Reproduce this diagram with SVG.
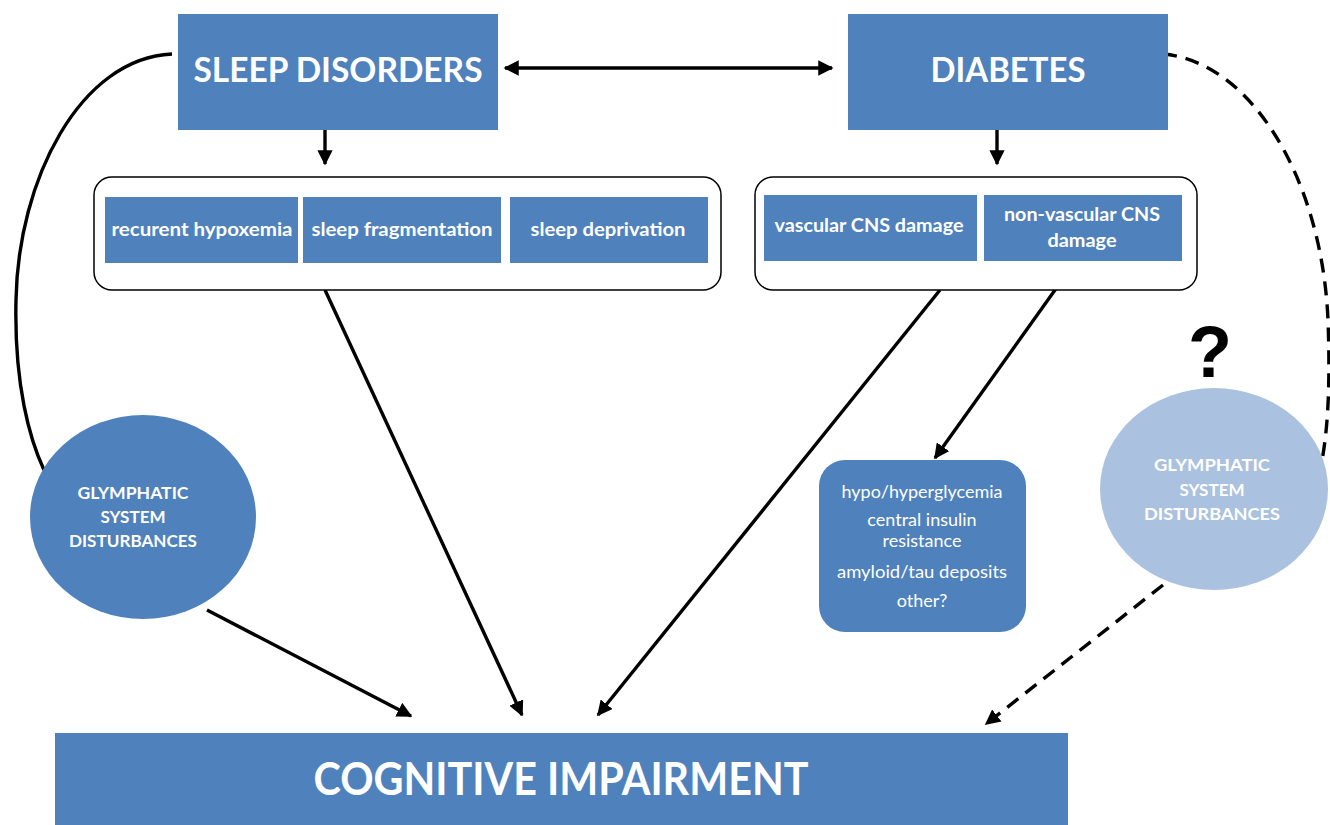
<svg xmlns="http://www.w3.org/2000/svg" width="1330" height="825" viewBox="0 0 1330 825">
<defs>
<style>
.box{fill:#4F81BD}
.light{fill:#AAC2DF}
.cont{fill:#fff;stroke:#000;stroke-width:1.5}
.t{font-family:Lato,"Open Sans","Liberation Sans",sans-serif;fill:#fff;text-anchor:middle}
.big{font-size:35px;font-weight:bold}
.mid{font-size:19px;font-weight:bold}
.reg{font-size:18px}
.circ{font-size:17px;font-weight:bold}
.ln{fill:none;stroke:#000;stroke-width:3.4}
.dash{stroke-dasharray:14 9}
</style>
<marker id="ah" viewBox="0 0 10 10" refX="9" refY="5" markerWidth="4.5" markerHeight="4.5" orient="auto-start-reverse" markerUnits="strokeWidth">
<path d="M0,0 L10,5 L0,10 z" fill="#000"/>
</marker>
</defs>
<rect width="1330" height="825" fill="#fff"/>

<g id="connectors">
<line class="ln" x1="505" y1="68" x2="832" y2="68" marker-start="url(#ah)" marker-end="url(#ah)"/>
<line class="ln" x1="325" y1="130" x2="325" y2="164" marker-end="url(#ah)"/>
<line class="ln" x1="997" y1="130" x2="997" y2="164" marker-end="url(#ah)"/>
<path class="ln" d="M172,54 C80,58 18,180 16,300 C14,385 30,440 44,470"/>
<path class="ln dash" d="M1163,54 C1252,62 1322,180 1328,320 C1331,400 1326,440 1321,466"/>
<line class="ln" x1="325" y1="290" x2="522" y2="715" marker-end="url(#ah)"/>
<line class="ln" x1="940" y1="290" x2="598" y2="715" marker-end="url(#ah)"/>
<line class="ln" x1="1075" y1="262" x2="935" y2="458" marker-end="url(#ah)"/>
<line class="ln" x1="207" y1="610" x2="411" y2="716" marker-end="url(#ah)"/>
<line class="ln dash" x1="1163" y1="585" x2="986" y2="724" marker-end="url(#ah)"/>
</g>

<g id="sleep-disorders">
<rect class="box" x="178" y="14" width="320" height="116"/>
<text class="t big" x="338" y="82" textLength="289" lengthAdjust="spacingAndGlyphs">SLEEP DISORDERS</text>
</g>

<g id="diabetes">
<rect class="box" x="848" y="14" width="320" height="116"/>
<text class="t big" x="1008" y="82" textLength="155" lengthAdjust="spacingAndGlyphs">DIABETES</text>
</g>

<g id="sleep-mechanisms">
<rect class="cont" x="94" y="177" width="627" height="113" rx="18"/>
<g id="recurent-hypoxemia">
<rect class="box" x="105" y="197" width="193" height="66"/>
<text class="t mid" x="202" y="236" textLength="181" lengthAdjust="spacingAndGlyphs">recurent hypoxemia</text>
</g>
<g id="sleep-fragmentation">
<rect class="box" x="303" y="197" width="198" height="66"/>
<text class="t mid" x="402" y="236" textLength="181" lengthAdjust="spacingAndGlyphs">sleep fragmentation</text>
</g>
<g id="sleep-deprivation">
<rect class="box" x="510" y="197" width="198" height="66"/>
<text class="t mid" x="608" y="236" textLength="155" lengthAdjust="spacingAndGlyphs">sleep deprivation</text>
</g>
</g>

<g id="diabetes-mechanisms">
<rect class="cont" x="755" y="177" width="442" height="113" rx="18"/>
<g id="vascular">
<rect class="box" x="764" y="195" width="213" height="66"/>
<text class="t mid" x="869" y="232" textLength="189" lengthAdjust="spacingAndGlyphs">vascular  CNS damage</text>
</g>
<g id="non-vascular">
<rect class="box" x="984" y="195" width="198" height="66"/>
<text class="t mid" x="1082" y="221" textLength="156" lengthAdjust="spacingAndGlyphs">non-vascular  CNS</text>
<text class="t mid" x="1082" y="247" textLength="69" lengthAdjust="spacingAndGlyphs">damage</text>
</g>
</g>

<g id="diabetes-effects">
<rect class="box" x="819" y="460" width="207" height="172" rx="26"/>
<text class="t reg" x="922" y="498" textLength="161" lengthAdjust="spacingAndGlyphs">hypo/hyperglycemia</text>
<text class="t reg" x="922" y="526">central insulin</text>
<text class="t reg" x="922" y="547">resistance</text>
<text class="t reg" x="922" y="578" textLength="170" lengthAdjust="spacingAndGlyphs">amyloid/tau deposits</text>
<text class="t reg" x="922" y="607">other?</text>
</g>

<g id="glymphatic-left">
<ellipse class="box" cx="143" cy="517" rx="113" ry="102"/>
<text class="t circ" x="133" y="499" textLength="111" lengthAdjust="spacingAndGlyphs">GLYMPHATIC</text>
<text class="t circ" x="133" y="523">SYSTEM</text>
<text class="t circ" x="133" y="547" textLength="128" lengthAdjust="spacingAndGlyphs">DISTURBANCES</text>
</g>

<g id="glymphatic-right">
<ellipse class="light" cx="1214" cy="489" rx="114" ry="101"/>
<text class="t circ" x="1212" y="471" textLength="116" lengthAdjust="spacingAndGlyphs">GLYMPHATIC</text>
<text class="t circ" x="1212" y="496">SYSTEM</text>
<text class="t circ" x="1212" y="520" textLength="136" lengthAdjust="spacingAndGlyphs">DISTURBANCES</text>
</g>

<g id="question">
<text x="1210" y="377" font-family="'Liberation Sans',Arial,sans-serif" font-weight="900" font-size="72" text-anchor="middle" fill="#000">?</text>
</g>

<g id="cognitive-impairment">
<rect class="box" x="55" y="733" width="1013" height="92"/>
<text class="t" x="561" y="795" font-size="45" font-weight="bold" textLength="495" lengthAdjust="spacingAndGlyphs">COGNITIVE IMPAIRMENT</text>
</g>
</svg>
